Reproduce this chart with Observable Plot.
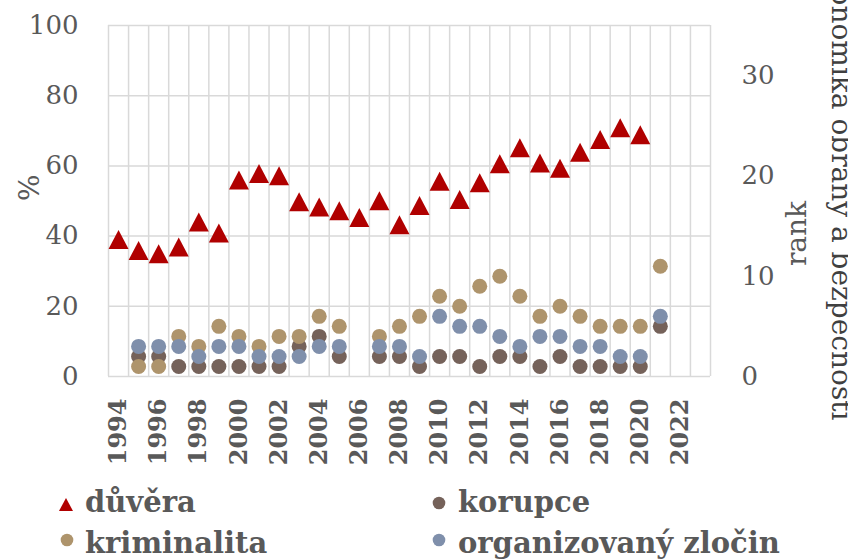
<!DOCTYPE html>
<html><head><meta charset="utf-8">
<script src="https://cdn.jsdelivr.net/npm/d3@7"></script>
<script src="https://cdn.jsdelivr.net/npm/@observablehq/plot@0.6"></script>
<style>
body{margin:0;background:#fff;font-family:"DejaVu Serif",serif;}
#chart{position:relative;width:848px;height:560px;overflow:hidden;background:#fff;}
#chart svg{display:block;}
</style></head><body><div id="chart"></div>
<script>
// Data
const years = [1994,1995,1996,1997,1998,1999,2000,2001,2002,2003,2004,2005,2006,2007,2008,2009,2010,2011,2012,2013,2014,2015,2016,2017,2018,2019,2020,2021];
const duvera = [39.0,35.9,35.0,36.9,44.0,40.9,56.0,57.8,57.2,49.8,48.3,47.2,45.3,50.1,43.2,48.7,55.6,50.4,55.2,60.6,65.2,60.8,59.3,63.9,67.5,70.9,68.9,null];
const korupce = [null,2,2,1,1,1,1,1,1,3,4,2,null,2,2,1,2,2,1,2,2,1,2,1,1,1,1,5];
const kriminalita = [null,1,1,4,3,5,4,3,4,4,6,5,null,4,5,6,8,7,9,10,8,6,7,6,5,5,5,11];
const organizovany = [null,3,3,3,2,3,3,2,2,2,3,3,null,3,3,2,6,5,5,4,3,4,4,3,3,2,2,6];
const seriesNames = ["důvěra","korupce","kriminalita","organizovaný zločin"];
const seriesColors = ["#b00000","#75625a","#ae946c","#7f8fab"];
const pctTicks = [0,20,40,60,80,100];
const rankTicks = [0,10,20,30];
const yearTicks = [1994,1996,1998,2000,2002,2004,2006,2008,2010,2012,2014,2016,2018,2020,2022];
const rankMax = 35;
const yLabelLeft = "%";
const yLabelRight = "rank";
const sideTitle = "Ekonomika obrany a bezpečnosti";

const toPct = r => r * 100 / rankMax;
const table = (vals) => years.map((y, i) => ({year: y, v: vals[i]})).filter(d => d.v != null);
const xGrid = d3.range(years[0] - 0.5, 2024, 1);

const tri = {draw(ctx){ ctx.moveTo(0,-9.5); ctx.lineTo(10,9.5); ctx.lineTo(-10,9.5); ctx.closePath(); }};

const rankDot = (vals, color) => Plot.dot(table(vals), {x: "year", y: d => toPct(d.v), r: 7.5, fill: color, stroke: null});

const plot = Plot.plot({
  width: 848, height: 480,
  marginTop: 25, marginBottom: 104, marginLeft: 108, marginRight: 138,
  x: {domain: [1993.5, 2023.5]},
  y: {domain: [0, 100]},
  style: {fontFamily: "DejaVu Serif", fontSize: "26px", color: "#595959", background: "white"},
  marks: [
    Plot.ruleX(xGrid, {stroke: "#d9d9d9", strokeWidth: 1.5}),
    Plot.ruleY(pctTicks, {stroke: "#d9d9d9", strokeWidth: 1.5}),
    Plot.axisY({anchor: "left", ticks: pctTicks, tickSize: 0, tickPadding: 30, label: null, fontSize: 26}),
    Plot.axisY({anchor: "right", ticks: rankTicks.map(toPct), tickFormat: d => String(Math.round(d * rankMax / 100)), tickSize: 0, tickPadding: 31, label: null, fontSize: 26}),
    Plot.axisX({ticks: yearTicks, tickFormat: d => String(d), tickRotate: -90, tickSize: 0, tickPadding: 22, label: null, fontSize: 24, fontWeight: "bold"}),
    Plot.text([yLabelLeft], {frameAnchor: "left", dx: -78, rotate: -90, fontSize: 28, fill: "#595959"}),
    Plot.text([yLabelRight], {frameAnchor: "right", dx: 87, rotate: -90, fontSize: 28, fill: "#595959"}),
    Plot.text([sideTitle], {frameAnchor: "bottom-right", dx: 121, dy: 44, rotate: 90, textAnchor: "end", fontSize: 28, fill: "#404040"}),
    rankDot(korupce, seriesColors[1]),
    rankDot(kriminalita, seriesColors[2]),
    rankDot(organizovany, seriesColors[3]),
    Plot.dot(table(duvera), {x: "year", y: "v", symbol: tri, r: 10, fill: seriesColors[0], stroke: null})
  ]
});
const chart = document.getElementById("chart");
chart.appendChild(plot);

// Legend below the plot
const leg = d3.select(chart).append("svg").attr("width", 848).attr("height", 80)
  .style("font-family", "DejaVu Serif").style("font-weight", "bold").style("font-size", "29px");
const items = [
  {name: seriesNames[0], color: seriesColors[0], tri: true, mx: 66, my: 24.5, tx: 85, ty: 32},
  {name: seriesNames[1], color: seriesColors[1], mx: 439, my: 23, tx: 458, ty: 32},
  {name: seriesNames[2], color: seriesColors[2], mx: 67, my: 60, tx: 85, ty: 73},
  {name: seriesNames[3], color: seriesColors[3], mx: 439, my: 60, tx: 458, ty: 73}
];
items.forEach(it => {
  if (it.tri) {
    leg.append("path").attr("d", `M${it.mx},${it.my-6.5}L${it.mx+7},${it.my+6.5}L${it.mx-7},${it.my+6.5}Z`).attr("fill", it.color);
  } else {
    leg.append("circle").attr("cx", it.mx).attr("cy", it.my).attr("r", 6.3).attr("fill", it.color);
  }
  leg.append("text").attr("x", it.tx).attr("y", it.ty).attr("fill", "#595959").text(it.name);
});
</script></body></html>
